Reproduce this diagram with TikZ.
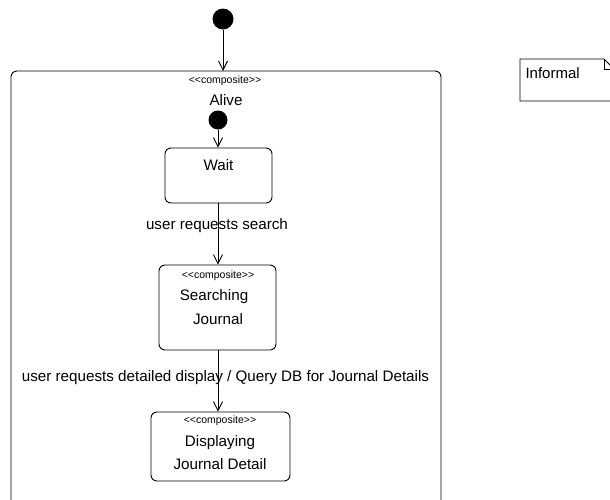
\documentclass[tikz,border=0pt]{standalone}
\usepackage{fontspec}
\setmainfont{Liberation Sans}
\usetikzlibrary{arrows.meta}
\newcommand{\stereotxt}{<\kern0pt<composite>\kern0pt>}
\begin{document}
\begin{tikzpicture}[x=1pt,y=-1pt,
  state/.style={draw,rounded corners=6pt,line width=0.9pt,inner sep=0pt},
  initial/.style={circle,fill=black,inner sep=0pt},
  trans/.style={line width=0.9pt,-{Straight Barb[length=9pt,width=9pt,line width=0.9pt]}},
  stereo/.style={font=\fontsize{10.5}{12}\selectfont},
  lbl/.style={font=\fontsize{15.2}{17}\selectfont},
  tlbl/.style={font=\fontsize{15.2}{17}\selectfont}]
\useasboundingbox (0,0) rectangle (610,499);
\clip (0,0) rectangle (610,499);
% outer composite
\draw[rounded corners=6pt,line width=0.9pt] (11,520) -- (11,71) -- (441,71) -- (441,520);
\node[initial,minimum size=21pt] (i0) at (223,19) {};
\coordinate (alivetop) at (223,71);
\node[stereo] (alst) at (225,81) {\stereotxt};
\node[lbl] (alname) at (226,100) {Alive};
\node[initial,minimum size=19pt] (i1) at (218,120) {};
% states
\node[state,minimum width=107pt,minimum height=55pt] (wait) at (218.5,175.5) {};
\node[lbl] (waitt) at (218.5,165) {Wait};
\node[state,minimum width=117pt,minimum height=85pt] (search) at (217.5,307.5) {};
\node[stereo] (sst) at (218,276) {\stereotxt};
\node[lbl] (s1) at (214,297) {Searching};
\node[lbl] (s2) at (218,319) {Journal};
\node[state,minimum width=139pt,minimum height=69pt] (disp) at (220.5,446.5) {};
\node[stereo] (dst) at (220,421) {\stereotxt};
\node[lbl] (d1) at (220,443) {Displaying};
\node[lbl] (d2) at (220,464) {Journal Detail};
% transitions
\draw[trans] (i0) -- (alivetop);
\draw[trans] (i1) -- (wait.north -| i1);
\draw[trans] (wait.south -| i1) -- (search.north -| i1);
\node[tlbl] (t1) at (217,226) {user requests search};
\draw[trans] (search.south -| i1) -- (disp.north -| i1);
\node[tlbl] (t2) at (225.5,378) {user requests detailed display / Query DB for Journal Details};
% note
\draw[line width=0.8pt] (520,59) -- (604,59) -- (614,69) -- (614,101) -- (520,101) -- cycle;
\draw[line width=0.8pt] (604,59) -- (604,69) -- (614,69);
\node[anchor=west,font=\fontsize{15}{17}\selectfont] (note) at (522,73) {Informal};
\end{tikzpicture}
\end{document}
